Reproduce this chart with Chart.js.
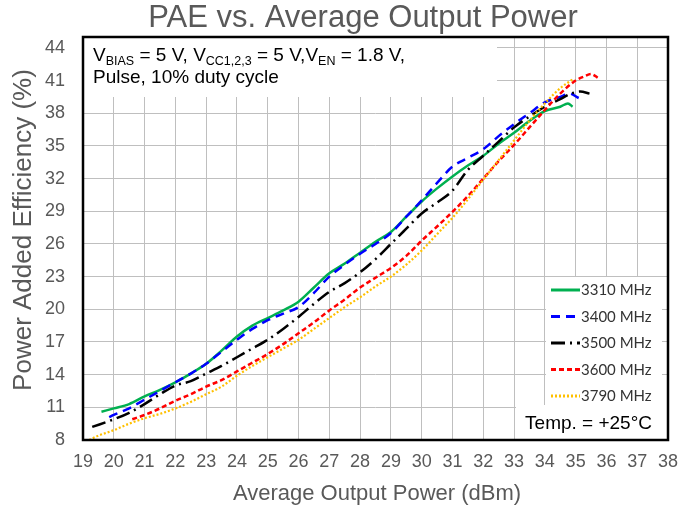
<!DOCTYPE html>
<html>
<head>
<meta charset="utf-8">
<script src="https://cdn.jsdelivr.net/npm/chart.js@4.4.0/dist/chart.umd.min.js"></script>
<style>
html,body{margin:0;padding:0;background:#fff;}
canvas{display:block;}
</style>
</head>
<body>
<canvas id="c" width="697" height="508" style="width:697px;height:508px"></canvas>
<script>
// ---- Data ----
const seriesNames = ['3310 MHz', '3400 MHz', '3500 MHz', '3600 MHz', '3790 MHz'];

const x3310 = [19.6,20,20.5,21,21.5,22,22.5,23,23.5,24,24.5,25,25.5,26,26.5,27,27.5,28,28.5,29,29.5,30,30.5,31,31.5,32,32.5,33,33.5,34,34.5,34.75,34.9];
const y3310 = [10.6,10.9,11.3,12.0,12.6,13.3,14.1,15.0,16.2,17.5,18.5,19.2,19.9,20.7,22.0,23.3,24.2,25.2,26.2,27.1,28.5,29.9,31.1,32.2,33.2,34.1,35.2,36.2,37.3,38.2,38.6,38.9,38.6];

const x3400 = [19.85,20,20.5,21,21.5,22,22.5,23,23.5,24,24.5,25,25.5,26,26.5,27,27.5,28,28.5,29,29.5,30,30.5,31,31.5,32,32.5,33,33.5,34,34.5,34.8,35.1];
const y3400 = [10.1,10.3,10.9,11.7,12.5,13.3,14.1,15.0,16.1,17.2,18.2,19.0,19.6,20.2,21.5,23.0,24.1,25.1,26.0,27.0,28.5,30.0,31.6,33.1,33.9,34.7,35.9,37.0,38.0,39.0,39.5,39.8,39.4];

const x3500 = [19.3,20,20.5,21,21.5,22,22.5,23,23.5,24,24.5,25,25.5,26,26.5,27,27.5,28,28.5,29,29.5,30,30.5,31,31.5,32,32.5,33,33.5,34,34.5,34.85,35.15,35.45];
const y3500 = [9.2,9.9,10.5,11.3,12.2,13.0,13.4,14.1,14.8,15.6,16.4,17.2,18.2,19.3,20.5,21.6,22.4,23.4,24.6,26.0,27.4,28.8,29.8,30.9,32.8,34.1,35.4,36.7,37.7,38.6,39.3,39.8,40.0,39.8];

const x3600 = [20.6,21,21.5,22,22.5,23,23.5,24,24.5,25,25.5,26,26.5,27,27.5,28,28.5,29,29.5,30,30.5,31,31.5,32,32.5,33,33.5,34,34.5,35,35.3,35.5,35.75];
const y3600 = [9.9,10.3,10.9,11.6,12.2,12.9,13.5,14.3,15.1,15.9,16.8,17.8,18.8,19.9,20.9,22.0,22.9,23.8,24.9,26.3,27.6,28.95,30.4,32.0,33.6,35.1,36.7,38.3,39.8,41.0,41.4,41.6,41.2];

const x3790 = [19.2,19.5,20,20.5,21,21.5,22,22.5,23,23.5,24,24.5,25,25.5,26,26.5,27,27.5,28,28.5,29,29.5,30,30.5,31,31.5,32,32.5,33,33.5,34,34.5,34.9];
const y3790 = [8.0,8.4,8.9,9.5,10.0,10.4,10.9,11.5,12.2,12.9,13.9,14.8,15.6,16.4,17.2,18.2,19.2,20.2,21.1,22.1,23.0,24.1,25.4,26.9,28.4,30.1,31.9,33.7,35.5,37.3,38.9,40.3,41.1];

const xTickLabels = [19,20,21,22,23,24,25,26,27,28,29,30,31,32,33,34,35,36,37,38];
const yTickLabels = [8,11,14,17,20,23,26,29,32,35,38,41,44];

// ---- Styles ----
const seriesX = [x3310, x3400, x3500, x3600, x3790];
const seriesY = [y3310, y3400, y3500, y3600, y3790];
const colors = ['#00b050', '#0000ff', '#000000', '#ff0000', '#ffc000'];
const dashes = [[], [9, 6], [14, 5, 2, 5], [5, 3], [2, 2]];
const widths = [2.5, 2.5, 2.5, 2.5, 2.2];

const datasets = seriesNames.map((name, i) => ({
  label: name,
  data: seriesX[i].map((x, j) => ({ x: x, y: seriesY[i][j] })),
  borderColor: colors[i],
  backgroundColor: colors[i],
  borderWidth: widths[i],
  borderDash: dashes[i],
  borderCapStyle: 'butt',
  showLine: true,
  pointRadius: 0,
  fill: false,
  cubicInterpolationMode: 'monotone',
  order: 4 - i
}));

const FONT = "'Liberation Sans', Arial, sans-serif";

function drawRich(ctx, parts, x, y, mainSize, subSize) {
  let cx = x;
  parts.forEach(p => {
    ctx.font = (p.sub ? subSize : mainSize) + 'px ' + FONT;
    ctx.fillText(p.t, cx, p.sub ? y + 4 : y);
    cx += ctx.measureText(p.t).width;
  });
}

const decor = {
  id: 'decor',
  beforeDatasetsDraw(chart) {
    const ctx = chart.ctx;
    const a = chart.chartArea;
    ctx.save();
    ctx.fillStyle = '#ffffff';
    ctx.fillRect(a.left, a.top, 497 - a.left, 97 - a.top);
    ctx.fillRect(546, 277, 116, 128);
    ctx.fillRect(516, 405, a.right - 516, a.bottom - 405);
    ctx.restore();
  },
  afterDraw(chart) {
    const ctx = chart.ctx;
    const a = chart.chartArea;
    ctx.save();
    ctx.strokeStyle = '#000000';
    ctx.lineWidth = 2.5;
    ctx.setLineDash([]);
    ctx.strokeRect(a.left, a.top, a.right - a.left, a.bottom - a.top);

    ctx.fillStyle = '#595959';
    ctx.textAlign = 'center';
    ctx.textBaseline = 'alphabetic';
    ctx.font = '31px ' + FONT;
    ctx.fillText('PAE vs. Average Output Power', 363, 27);

    ctx.font = '22px ' + FONT;
    ctx.fillText('Average Output Power (dBm)', 377, 500);

    ctx.save();
    ctx.translate(31, 230);
    ctx.rotate(-Math.PI / 2);
    ctx.font = '26px ' + FONT;
    ctx.fillText('Power Added Efficiency (%)', 0, 0);
    ctx.restore();

    ctx.fillStyle = '#000000';
    ctx.textAlign = 'left';
    drawRich(ctx, [
      { t: 'V' }, { t: 'BIAS', sub: true }, { t: ' = 5 V, V' }, { t: 'CC1,2,3', sub: true },
      { t: ' = 5 V,V' }, { t: 'EN', sub: true }, { t: ' = 1.8 V,' }
    ], 93, 61, 19, 12.5);
    ctx.font = '19px ' + FONT;
    ctx.fillText('Pulse, 10% duty cycle', 93, 83);

    ctx.textAlign = 'right';
    ctx.fillText('Temp. = +25\u00B0C', 652, 429);

    const ly0 = 290, ldy = 26.5;
    chart.data.datasets.forEach((ds, i) => {
      const y = ly0 + i * ldy;
      ctx.beginPath();
      ctx.strokeStyle = ds.borderColor;
      ctx.lineWidth = 3;
      ctx.setLineDash(ds.borderDash);
      ctx.lineCap = 'butt';
      ctx.moveTo(551, y);
      ctx.lineTo(580, y);
      ctx.stroke();
      ctx.setLineDash([]);
      ctx.fillStyle = '#333333';
      ctx.textAlign = 'left';
      ctx.textBaseline = 'middle';
      ctx.font = "15px Lato, 'Open Sans', sans-serif";
      ctx.fillText(ds.label, 581, y + 0.5);
    });
    ctx.restore();
  }
};

new Chart(document.getElementById('c'), {
  type: 'scatter',
  data: { datasets: datasets },
  options: {
    responsive: false,
    animation: false,
    devicePixelRatio: 1,
    layout: { padding: { top: 37, right: 29, left: 0, bottom: 0 } },
    plugins: {
      legend: { display: false },
      tooltip: { enabled: false },
      title: { display: false }
    },
    scales: {
      x: {
        type: 'linear',
        min: 19, max: 38,
        afterBuildTicks: (axis) => { axis.ticks = xTickLabels.map(v => ({ value: v })); },
        afterFit: (s) => { s.height = 68; },
        grid: { color: '#bfbfbf', lineWidth: 1, drawTicks: false },
        border: { display: false },
        ticks: {
          font: { family: FONT, size: 18 },
          color: '#595959',
          padding: 11,
          maxRotation: 0,
          autoSkip: false
        }
      },
      y: {
        type: 'linear',
        min: 8, max: 45,
        afterBuildTicks: (axis) => { axis.ticks = yTickLabels.map(v => ({ value: v })); },
        afterFit: (s) => { s.width = 83; },
        grid: { color: '#bfbfbf', lineWidth: 1, drawTicks: false },
        border: { display: false },
        ticks: {
          font: { family: FONT, size: 18 },
          color: '#595959',
          padding: 18,
          autoSkip: false
        }
      }
    }
  },
  plugins: [decor]
});
</script>
</body>
</html>
